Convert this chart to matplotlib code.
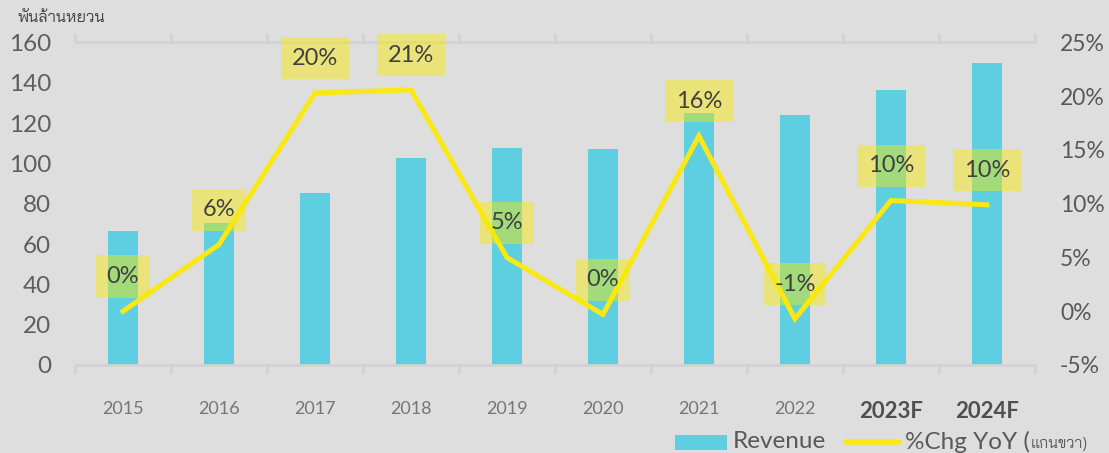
import matplotlib
matplotlib.use('Agg')
import matplotlib.pyplot as plt
from matplotlib.patches import Rectangle
from matplotlib.lines import Line2D
import numpy as np

# data
years = ['2015', '2016', '2017', '2018', '2019', '2020', '2021', '2022', '2023F', '2024F']
revenue = [66.3, 70.5, 85.3, 102.7, 107.7, 107.2, 125.0, 124.1, 136.6, 150.0]
yoy = [0.0, 6.2, 20.3, 20.6, 5.0, -0.3, 16.3, -0.7, 10.3, 9.9]
yoy_labels = ['0%', '6%', '20%', '21%', '5%', '0%', '16%', '-1%', '10%', '10%']
left_ticks = [0, 20, 40, 60, 80, 100, 120, 140, 160]
right_ticks = [-5, 0, 5, 10, 15, 20, 25]

BG = '#dedede'
BAR = '#5ecfe0'
LINE = '#f9e814'
AXC = '#d2d2d2'
MAIN = 'Lato'
THAI = ['Bai Jamjuree', 'Loma', 'DejaVu Sans']

plt.rcParams['font.family'] = [MAIN, 'DejaVu Sans']

fig = plt.figure(figsize=(11.09, 4.53), dpi=100, facecolor=BG)
ax = fig.add_axes([0.0676, 0.1943, 0.8656, 0.7119], facecolor=BG)
x = np.arange(len(years))

ax.bar(x, revenue, width=0.31, color=BAR, zorder=2)
ax.set_xlim(-0.5, len(years) - 0.5)
ax.set_ylim(0, 160)
ax.set_yticks(left_ticks)
ax.set_yticklabels([str(t) for t in left_ticks])
ax.tick_params(axis='y', length=0, pad=17, labelsize=17.5, labelcolor='#5e5e5e')

# category axis with boundary ticks at top and bottom
ax.set_xticks(x)
ax.set_xticklabels(years)
ax.tick_params(axis='x', length=0, pad=26)
for i, lab in enumerate(ax.get_xticklabels()):
    if years[i].endswith('F'):
        lab.set_fontsize(16)
        lab.set_fontweight('bold')
        lab.set_color('#4f4f4f')
    else:
        lab.set_fontsize(13)
        lab.set_color('#767676')
for s in ['left', 'right']:
    ax.spines[s].set_visible(False)
for s in ['top', 'bottom']:
    ax.spines[s].set_color(AXC)
    ax.spines[s].set_linewidth(2)
bounds = np.arange(len(years) + 1) - 0.5
ax.vlines(bounds, 0, -4, color=AXC, lw=2, clip_on=False)
ax.vlines(bounds, 160, 164, color=AXC, lw=2, clip_on=False)

ax2 = ax.twinx()
ax2.set_ylim(-5, 25)
ax2.set_yticks(right_ticks)
ax2.set_yticklabels([f'{t}%' for t in right_ticks])
ax2.tick_params(axis='y', length=0, pad=18, labelsize=16.5, labelcolor='#595959')
for s in ax2.spines.values():
    s.set_visible(False)

ax2.plot(x, yoy, color=LINE, lw=3.6, zorder=3, solid_joinstyle='miter')
for xi, yi, lab in zip(x, yoy, yoy_labels):
    ax2.annotate(lab, (xi, yi), xytext=(0, 25), textcoords='offset points',
                 ha='center', va='center', fontsize=17, color='#404040', zorder=4,
                 bbox=dict(boxstyle='square,pad=0.45', fc=(249/255, 235/255, 0), ec='none', alpha=0.45))

fig.text(17/1109, 1 - 18/453, 'พันล้านหยวน', family=THAI, fontsize=11.5, color='#404040',
         ha='left', va='center')

# legend
ly = 1 - 442/453
fig.patches.append(Rectangle((675/1109, 1 - 450/453), 52/1109, 15/453, transform=fig.transFigure,
                             fc=BAR, ec='none'))
fig.lines.append(Line2D([846/1109, 899/1109], [ly, ly], transform=fig.transFigure,
                        color=LINE, lw=4, solid_capstyle='round'))
fig.text(733/1109, ly, 'Revenue', fontsize=17.5, color='#595959', ha='left', va='center')
t = fig.text(905/1109, ly, '%Chg YoY (', fontsize=17.5, color='#595959', ha='left', va='center')
bb = t.get_window_extent(renderer=fig.canvas.get_renderer())
fig.text((bb.x1 + 1) / 1109, ly - 0.004, 'แกนขวา)', family=THAI, fontsize=11, color='#595959',
         ha='left', va='center')

fig.savefig('out.png', dpi=100, facecolor=BG)
